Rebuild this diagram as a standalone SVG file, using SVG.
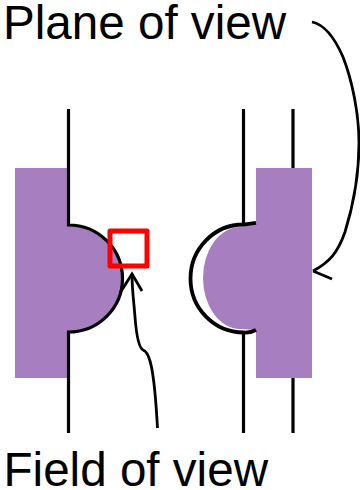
<svg xmlns="http://www.w3.org/2000/svg" width="360" height="490" viewBox="0 0 360 490">
<style>
.line{fill:none;stroke:#000;stroke-width:3.2}
.arc{fill:none;stroke:#000;stroke-width:3.8}
.arrow{fill:none;stroke:#000;stroke-width:2.8}
.purple{fill:#a77fc1}
.label{font-family:"Liberation Sans",Arial,sans-serif;font-size:47.6px;fill:#000}
</style>
<rect width="360" height="490" fill="#fff"/>
<g id="left-body">
<path class="purple" d="M15 168H68V225A54 53.500 0 0 1 68 332V378H15Z"/>
</g>
<g id="right-body">
<path class="purple" d="M256 168H312V378H256V330L240 329A37 51 0 0 1 240 227L256 224Z"/>
</g>
<g id="membranes">
<path class="line" d="M68.500 109V225A54 53.500 0 0 1 68.500 332V433"/>
<path class="line" d="M243.500 109V224.500M243.500 333V433"/>
<path class="arc" d="M256 222.800C251 223.500 248 224 243.500 224.500A53 54 0 0 0 243.500 332.500C248 333 252 332 256 330"/>
<path class="line" d="M293 109V168M293 378V433"/>
</g>
<g id="field-of-view">
<rect x="110" y="231" width="37" height="35" fill="none" stroke="#f00" stroke-width="5" stroke-linejoin="round"/>
</g>
<g id="connectors">
<path class="arrow" d="M157.500 428C156 405 155 378 150 361C148 354 146 351 143 350C138 347 136 330 135 317C134 303 132 290 132 274"/>
<path class="arrow" d="M120 293L132 274L142 291"/>
<path class="arrow" d="M312 22C322 24 333 34 343 57C352 80 359 113 359 143C359 170 355 200 345 232C338 252 330 262 313 271"/>
<path class="arrow" d="M332 279L313 271"/>
</g>
<g id="labels">
<text class="label" x="3" y="38.500">Plane of view</text>
<text class="label" x="3.500" y="486">Field of view</text>
</g>
</svg>
